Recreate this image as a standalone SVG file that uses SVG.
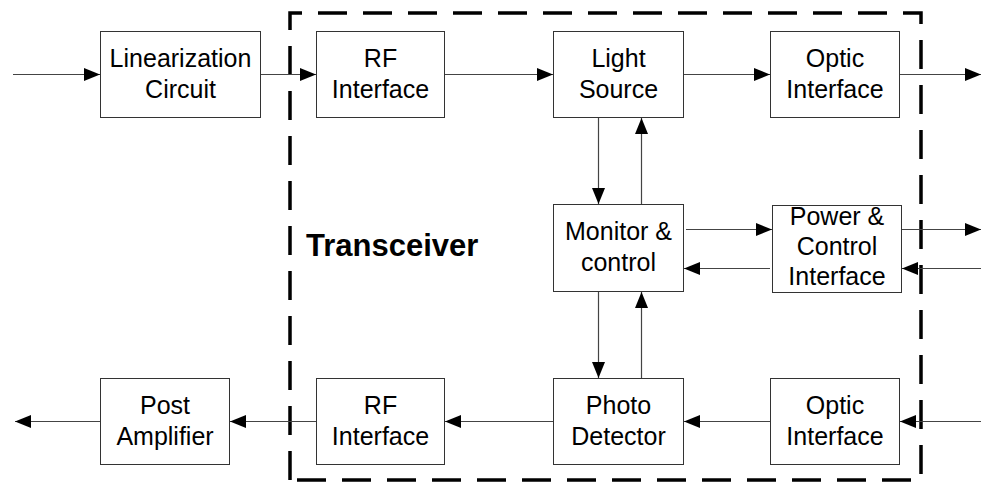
<svg xmlns="http://www.w3.org/2000/svg" width="981" height="484" viewBox="0 0 981 484">
<style>
.box rect{fill:#fff;stroke:#333;stroke-width:1}
text{font-family:"Liberation Sans",Arial,sans-serif;font-size:25px;fill:#000;text-anchor:middle}
.conn line{stroke:#444;stroke-width:1.2;marker-end:url(#ah)}
.title{font-weight:bold;font-size:31px;text-anchor:start}
</style>
<defs>
<marker id="ah" markerUnits="userSpaceOnUse" markerWidth="17" markerHeight="13" refX="16" refY="6.5" orient="auto" viewBox="0 0 17 13">
<path d="M0,0 L16,6.5 L0,13 z" fill="#000"/>
</marker>
</defs>
<rect width="981" height="484" fill="#fff"/>
<g id="transceiver-boundary">
<path d="M290,480 L290,13 L921,13 L921,480 Z" fill="none" stroke="#000" stroke-width="3.5" stroke-dasharray="29,16"/>
<text class="title" x="306" y="256">Transceiver</text>
</g>
<g id="linearization" class="box"><rect x="100.5" y="31.5" width="160" height="86"/><text x="180.5" y="67">Linearization</text><text x="180.5" y="98">Circuit</text></g>
<g id="rf-tx" class="box"><rect x="316.5" y="31.5" width="128" height="86"/><text x="380.5" y="67">RF</text><text x="380.5" y="98">Interface</text></g>
<g id="light-source" class="box"><rect x="553.5" y="31.5" width="130" height="86"/><text x="618.5" y="67">Light</text><text x="618.5" y="98">Source</text></g>
<g id="optic-tx" class="box"><rect x="770.5" y="31.5" width="129" height="86"/><text x="835" y="67">Optic</text><text x="835" y="98">Interface</text></g>
<g id="monitor" class="box"><rect x="553.5" y="204.5" width="130" height="87"/><text x="618.5" y="240">Monitor &amp;</text><text x="618.5" y="271">control</text></g>
<g id="power" class="box"><rect x="772.5" y="205.5" width="129" height="87"/><text x="837" y="225">Power &amp;</text><text x="837" y="255">Control</text><text x="837" y="285">Interface</text></g>
<g id="photo-detector" class="box"><rect x="553.5" y="378.5" width="130" height="86"/><text x="618.5" y="414">Photo</text><text x="618.5" y="445">Detector</text></g>
<g id="optic-rx" class="box"><rect x="770.5" y="378.5" width="129" height="86"/><text x="835" y="414">Optic</text><text x="835" y="445">Interface</text></g>
<g id="rf-rx" class="box"><rect x="316.5" y="378.5" width="128" height="86"/><text x="380.5" y="414">RF</text><text x="380.5" y="445">Interface</text></g>
<g id="post-amp" class="box"><rect x="100.5" y="378.5" width="129" height="86"/><text x="165" y="414">Post</text><text x="165" y="445">Amplifier</text></g>
<g id="connectors" class="conn">
<line x1="13" y1="74.5" x2="100" y2="74.5"/>
<line x1="261" y1="74.5" x2="316" y2="74.5"/>
<line x1="445" y1="74.5" x2="553" y2="74.5"/>
<line x1="684" y1="74.5" x2="770" y2="74.5"/>
<line x1="900" y1="74.5" x2="981" y2="74.5"/>
<line x1="598.5" y1="118" x2="598.5" y2="204"/>
<line x1="641.5" y1="204" x2="641.5" y2="118"/>
<line x1="686" y1="229.5" x2="772" y2="229.5"/>
<line x1="770" y1="268.5" x2="684" y2="268.5"/>
<line x1="902" y1="229.5" x2="981" y2="229.5"/>
<line x1="981" y1="268.5" x2="902" y2="268.5"/>
<line x1="598.5" y1="292" x2="598.5" y2="378"/>
<line x1="641.5" y1="378" x2="641.5" y2="292"/>
<line x1="981" y1="421.5" x2="900" y2="421.5"/>
<line x1="770" y1="421.5" x2="684" y2="421.5"/>
<line x1="553" y1="421.5" x2="445" y2="421.5"/>
<line x1="316" y1="421.5" x2="230" y2="421.5"/>
<line x1="100" y1="421.5" x2="15" y2="421.5"/>
</g>
</svg>
